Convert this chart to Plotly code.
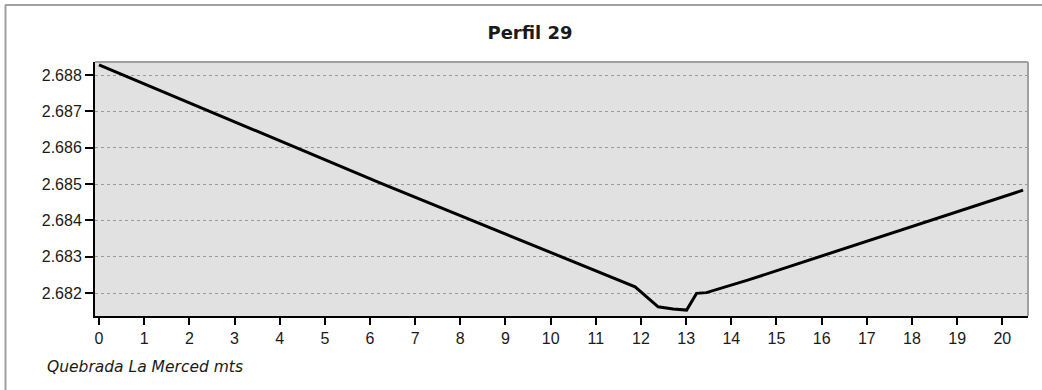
import plotly.graph_objects as go

# Profile 29 along Quebrada La Merced: distance (mts) vs elevation
distance = [0.0, 6.22, 11.87, 12.38, 12.71, 13.01, 13.23, 13.45, 14.38, 20.46]
elevation = [2.68828, 2.68503, 2.68217, 2.68162, 2.68156, 2.68153, 2.68199, 2.68201, 2.68236, 2.68483]

x_ticks = list(range(0, 21))
y_ticks = [2.682, 2.683, 2.684, 2.685, 2.686, 2.687, 2.688]
y_tick_text = [f"{v:.3f}" for v in y_ticks]

title_text = "Perfil 29"
x_title = "Quebrada La Merced mts"

W, H = 1042, 390
L, R, T, B = 95, 14, 62, 74
pw, ph = W - L - R, H - T - B


def px_x(p):
    return (p - L) / pw


def px_y(p):
    return (H - B - p) / ph


title_font = "DejaVu Sans"
tick_font = "Liberation Sans"
text_color = "#1a1a1a"
frame_gray = "#a0a0a0"

fig = go.Figure()
fig.add_trace(go.Scatter(
    x=distance, y=elevation, mode="lines",
    line=dict(color="black", width=3),
    hoverinfo="skip", showlegend=False,
))

fig.update_layout(
    width=W, height=H,
    margin=dict(l=L, r=R, t=T, b=B, pad=0),
    paper_bgcolor="white",
    plot_bgcolor="#e1e1e1",
    showlegend=False,
    title=dict(
        text=title_text, x=530 / W, y=1 - 33 / H,
        xanchor="center", yanchor="middle", xref="container", yref="container",
        font=dict(family=title_font, size=18, color=text_color, weight="bold"),
    ),
    xaxis=dict(
        range=[-0.0886, 20.569], tickvals=x_ticks,
        ticks="outside", ticklen=7, tickwidth=2, tickcolor="black",
        showline=True, linecolor="black", linewidth=2,
        showgrid=False, zeroline=False,
        tickfont=dict(family=tick_font, size=16, color=text_color),
        fixedrange=True,
    ),
    yaxis=dict(
        range=[2.681367, 2.688358], tickvals=y_ticks, ticktext=y_tick_text,
        ticks="outside", ticklen=8, tickwidth=2, tickcolor="black",
        showline=True, linecolor="black", linewidth=2,
        showgrid=True, gridcolor="#9a9a9a", gridwidth=1, griddash="dot",
        zeroline=False,
        tickfont=dict(family=tick_font, size=16, color=text_color),
        fixedrange=True,
    ),
    annotations=[dict(
        text=x_title, xref="paper", yref="paper",
        x=px_x(45), y=px_y(367), xanchor="left", yanchor="middle",
        showarrow=False,
        font=dict(family=title_font, size=15.5, color=text_color, style="italic"),
    )],
    shapes=[
        # plot-area top and right borders
        dict(type="line", xref="paper", yref="paper", x0=0, x1=1, y0=1, y1=1,
             line=dict(color=frame_gray, width=2)),
        dict(type="line", xref="paper", yref="paper", x0=1, x1=1, y0=0, y1=1,
             line=dict(color=frame_gray, width=2)),
        # outer chart frame
        dict(type="line", xref="paper", yref="paper",
             x0=px_x(5), x1=px_x(W + 5), y0=px_y(5), y1=px_y(5),
             line=dict(color=frame_gray, width=2)),
        dict(type="line", xref="paper", yref="paper",
             x0=px_x(5.5), x1=px_x(5.5), y0=px_y(5), y1=px_y(H + 5),
             line=dict(color=frame_gray, width=2)),
    ],
)

fig.write_html("out.html", config=dict(displayModeBar=False))
